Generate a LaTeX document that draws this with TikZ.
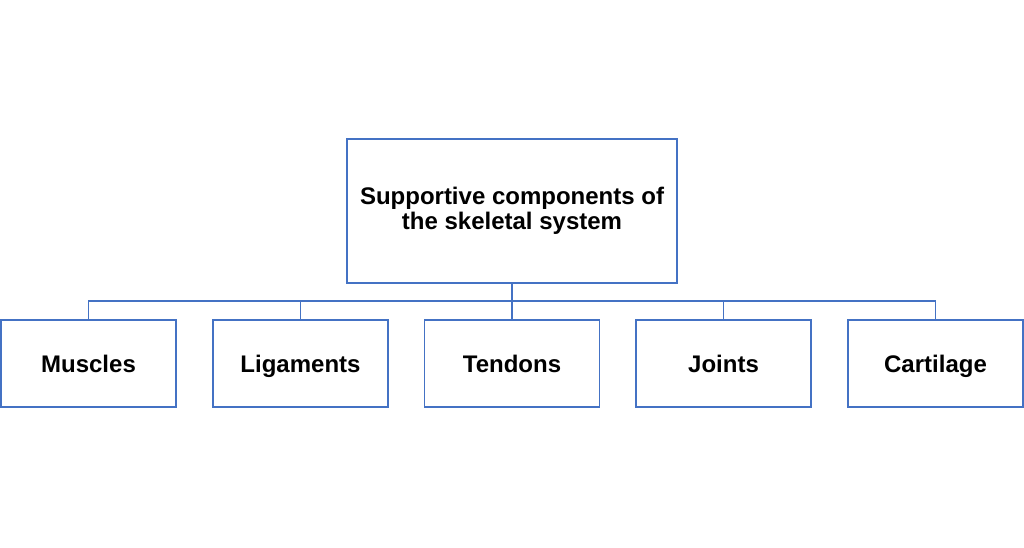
\documentclass[tikz,border=0pt]{standalone}
\usepackage{fontspec}
\setmainfont{Liberation Sans}
\definecolor{boxblue}{HTML}{4472C4}
\begin{document}
\begin{tikzpicture}[x=1pt,y=-1pt,
  box/.style={draw=boxblue,line width=1.8pt,fill=white,minimum width=175pt,minimum height=87pt,inner sep=0pt,font=\fontsize{24}{25}\selectfont\bfseries,align=center,text height=22pt,text depth=4.8pt},
  topbox/.style={box,minimum width=330pt,minimum height=144pt,text height=,text depth=},
  link/.style={draw=boxblue,line width=1.8pt}]
\useasboundingbox (0,0) rectangle (1024,548);
\node[topbox] (top) at (512,211) {Supportive components of\\the skeletal system};
\node[box] (c1) at (88.5,363.5) {Muscles};
\node[box] (c2) at (300.5,363.5) {Ligaments};
\node[box] (c3) at (512,363.5) {Tendons};
\node[box] (c4) at (723.5,363.5) {Joints};
\node[box] (c5) at (935.5,363.5) {Cartilage};
\coordinate (bus) at (512,301);
\foreach \c in {c1,c2,c3,c4,c5}{
  \draw[link] (top.south) -- (bus) -| (\c.north);
}
\end{tikzpicture}
\end{document}
